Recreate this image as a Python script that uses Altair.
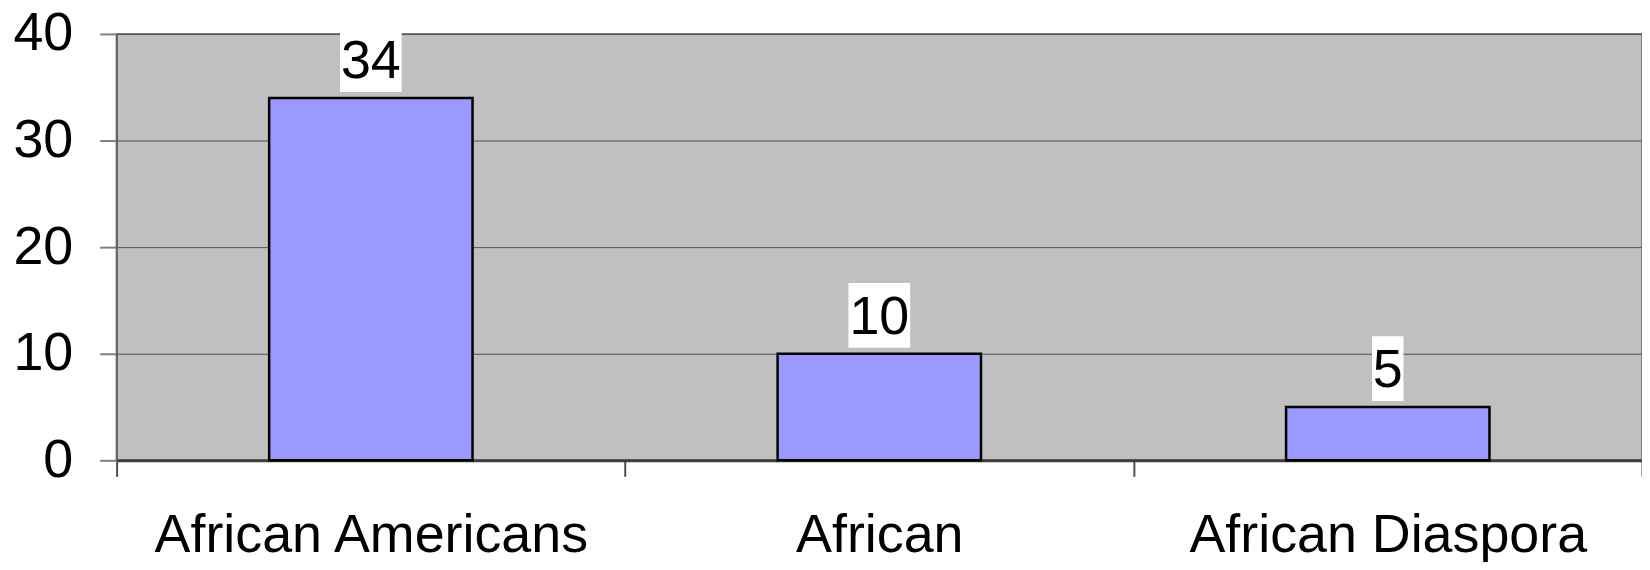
import altair as alt
import pandas as pd

categories = ["African Americans", "African", "African Diaspora"]
values = [34, 10, 5]
labels = ["34", "10", "5"]
y_ticks = [0, 10, 20, 30, 40]

df = pd.DataFrame({"category": categories, "value": values, "label": labels})

W, H = 1531, 428
FONT = "Liberation Sans"

x_enc = alt.X(
    "category:N",
    sort=categories,
    scale=alt.Scale(paddingInner=0, paddingOuter=0),
    axis=alt.Axis(
        title=None, labelAngle=0, labelFontSize=54, labelFont=FONT,
        labelColor="black", tickBand="extent", tickSize=16,
        tickColor="#505050", tickWidth=2, labelPadding=32, labelLimit=2000,
        domainColor="#404040", domainWidth=3, grid=False,
        labelAlign="center", labelOverlap=False,
    ),
)
y_enc = alt.Y(
    "value:Q",
    scale=alt.Scale(domain=[0, 40], nice=False),
    axis=alt.Axis(
        title=None, values=y_ticks, labelFontSize=54, labelFont=FONT,
        labelColor="black", labelPadding=27, tickSize=17,
        tickColor="#808080", tickWidth=2, domainColor="#404040",
        domainWidth=1, gridColor="#505050", gridWidth=1,
    ),
)

base = alt.Chart(df)

bars = base.mark_bar(
    width=alt.RelativeBandSize(0.4), fill="#9999FF", stroke="black", strokeWidth=2.5
).encode(x=x_enc, y=y_enc)

boxes = base.mark_bar(
    fill="white",
    width=alt.ExprRef(expr="length(datum.label) * 30.5 + 1"),
    yOffset=-71,
    y2Offset=-6,
).encode(x=x_enc, y=y_enc, y2="value:Q")

texts = base.mark_text(
    fontSize=54, font=FONT, dy=-20, baseline="alphabetic", align="center", color="black"
).encode(x=x_enc, y=y_enc, text="label:N")

chart = alt.layer(bars, boxes, texts).properties(
    width=W,
    height=H,
    autosize=alt.AutoSizeParams(type="none"),
    padding={"left": 109, "top": 25, "right": 0, "bottom": 101},
).configure_view(fill="#C0C0C0", stroke="#808080", strokeWidth=2)

chart.save("out.html", embed_options={"renderer": "svg", "actions": False})
